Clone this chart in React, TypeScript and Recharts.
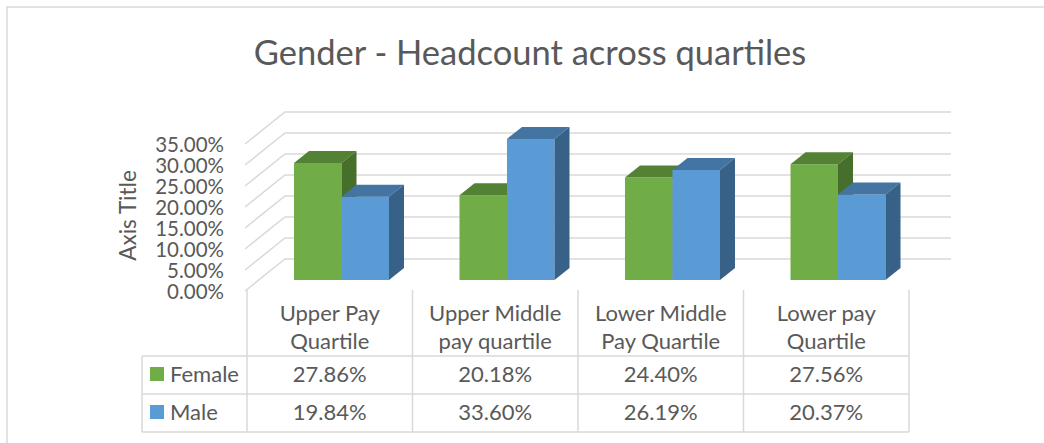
import { BarChart, Bar, XAxis, YAxis, CartesianGrid } from 'recharts';

// chart values
const categories = ['Upper Pay\nQuartile', 'Upper Middle\npay quartile', 'Lower Middle\nPay Quartile', 'Lower pay\nQuartile'];
const female = [0.2786, 0.2018, 0.244, 0.2756];
const male = [0.1984, 0.336, 0.2619, 0.2037];
const yTicks = [0, 0.05, 0.1, 0.15, 0.2, 0.25, 0.3, 0.35];
const seriesNames = ['Female', 'Male'];

const data = categories.map((name, i) => ({ name, female: female[i], male: male[i] }));

const W = 1044;
const H = 443;
const PLOT_LEFT = 247;
const PLOT_RIGHT = 909;
const PLOT_TOP = 133;
const PLOT_BOTTOM = 280;
const Y_AXIS_W = 60;
const X_AXIS_H = 153;

const DX = 15; // bar depth
const DY = -12;
const SHIFT = 12; // perspective shift of bars

const GRID = '#D9D9D9';
const TEXT = '#595959';
const FONT = 'Lato, "Open Sans", sans-serif';
const TABLE_FS = 22;

const GREEN = { front: '#70AD47', top: '#548235', side: '#466F2B' };
const BLUE = { front: '#5B9BD5', top: '#4474A1', side: '#386187' };

const fmt = (v: number) => (v * 100).toFixed(2) + '%';

const Bar3D = (props: any) => {
  const { x, y, width, height, colors } = props;
  if (width == null || height == null) return null;
  const bx = x + SHIFT;
  return (
    <g>
      <rect x={bx} y={y} width={width} height={height} fill={colors.front} />
      <polygon
        points={`${bx},${y} ${bx + DX},${y + DY} ${bx + width + DX},${y + DY} ${bx + width},${y}`}
        fill={colors.top}
      />
      <polygon
        points={`${bx + width},${y} ${bx + width + DX},${y + DY} ${bx + width + DX},${y + height + DY} ${bx + width},${y + height}`}
        fill={colors.side}
      />
    </g>
  );
};

const gridLine = (props: any) => {
  const y = props.y1;
  const fy = y + 11;
  const by = y - 21;
  return (
    <path
      key={`grid-${y}`}
      d={`M245,${fy} L285,${by} L951,${by}`}
      stroke={GRID}
      strokeWidth={1.5}
      fill="none"
    />
  );
};

const YTick = (props: any) => {
  const { y, payload } = props;
  return (
    <text x={224} y={y + 18.5} textAnchor="end" fontFamily={FONT} fontSize={20.5} fill={TEXT}>
      {fmt(payload.value)}
    </text>
  );
};

const ROW_TOP = 290;
const ROW_LINES = [356, 394, 432];
const LABEL_BASE = [321, 349];
const VALUE_BASE = [382, 420];

const TableTick = (props: any) => {
  const { x, payload, index } = props;
  const half = (PLOT_RIGHT - PLOT_LEFT) / categories.length / 2;
  const x0 = x - half;
  const x1 = x + half;
  const lines = String(payload.value).split('\n');
  const values = [female[index], male[index]];
  const last = index === categories.length - 1;
  return (
    <g>
      <line x1={x0} y1={ROW_TOP} x2={x0} y2={ROW_LINES[2]} stroke={GRID} strokeWidth={1.5} />
      {last && <line x1={x1} y1={ROW_TOP} x2={x1} y2={ROW_LINES[2]} stroke={GRID} strokeWidth={1.5} />}
      {ROW_LINES.map((ly) => (
        <line key={ly} x1={x0} y1={ly} x2={x1} y2={ly} stroke={GRID} strokeWidth={1.5} />
      ))}
      {lines.map((t, i) => (
        <text key={i} x={x} y={LABEL_BASE[i]} textAnchor="middle" fontFamily={FONT} fontSize={TABLE_FS} fill={TEXT}>
          {t}
        </text>
      ))}
      {values.map((v, i) => (
        <text key={i} x={x} y={VALUE_BASE[i]} textAnchor="middle" fontFamily={FONT} fontSize={TABLE_FS} fill={TEXT}>
          {fmt(v)}
        </text>
      ))}
      {index === 0 && (
        <g>
          <line x1={142} y1={ROW_LINES[0]} x2={142} y2={ROW_LINES[2]} stroke={GRID} strokeWidth={1.5} />
          {ROW_LINES.map((ly) => (
            <line key={ly} x1={142} y1={ly} x2={x0} y2={ly} stroke={GRID} strokeWidth={1.5} />
          ))}
          {seriesNames.map((s, i) => (
            <g key={s}>
              <rect x={150} y={VALUE_BASE[i] - 15} width={14} height={14} fill={i === 0 ? GREEN.front : BLUE.front} />
              <text x={170} y={VALUE_BASE[i]} fontFamily={FONT} fontSize={TABLE_FS} fill={TEXT}>
                {s}
              </text>
            </g>
          ))}
        </g>
      )}
    </g>
  );
};

const AxisTitle = () => (
  <text transform="translate(136,215.5) rotate(-90)" textAnchor="middle" fontFamily={FONT} fontSize={22.5} fill={TEXT}>
    Axis Title
  </text>
);

export default function App() {
  return (
    <div style={{ position: 'absolute', left: 0, top: 0, width: W, height: H, overflow: 'hidden', background: '#fff' }}>
      <svg width={W} height={H} style={{ position: 'absolute', left: 0, top: 0 }}>
        <rect x={7} y={7} width={1200} height={600} fill="none" stroke={GRID} strokeWidth={1.5} />
        <text x={530} y={65} textAnchor="middle" fontFamily={FONT} fontSize={34.5} fill={TEXT}>
          Gender - Headcount across quartiles
        </text>
      </svg>
      <div style={{ position: 'absolute', left: 0, top: 0 }}>
        <BarChart
          width={W}
          height={H}
          data={data}
          barGap={0}
          margin={{
            top: PLOT_TOP,
            left: PLOT_LEFT - Y_AXIS_W,
            right: W - PLOT_RIGHT,
            bottom: H - PLOT_BOTTOM - X_AXIS_H,
          }}
        >
          <CartesianGrid vertical={false} horizontal={gridLine} />
          <XAxis
            dataKey="name"
            height={X_AXIS_H}
            axisLine={false}
            tickLine={false}
            interval={0}
            tick={TableTick}
          />
          <YAxis
            width={Y_AXIS_W}
            domain={[0, 0.35]}
            ticks={yTicks}
            interval={0}
            axisLine={false}
            tickLine={false}
            tick={YTick}
            label={<AxisTitle />}
          />
          <Bar dataKey="female" barSize={47.5} isAnimationActive={false} shape={(p: any) => <Bar3D {...p} colors={GREEN} />} />
          <Bar dataKey="male" barSize={47.5} isAnimationActive={false} shape={(p: any) => <Bar3D {...p} colors={BLUE} />} />
        </BarChart>
      </div>
    </div>
  );
}
